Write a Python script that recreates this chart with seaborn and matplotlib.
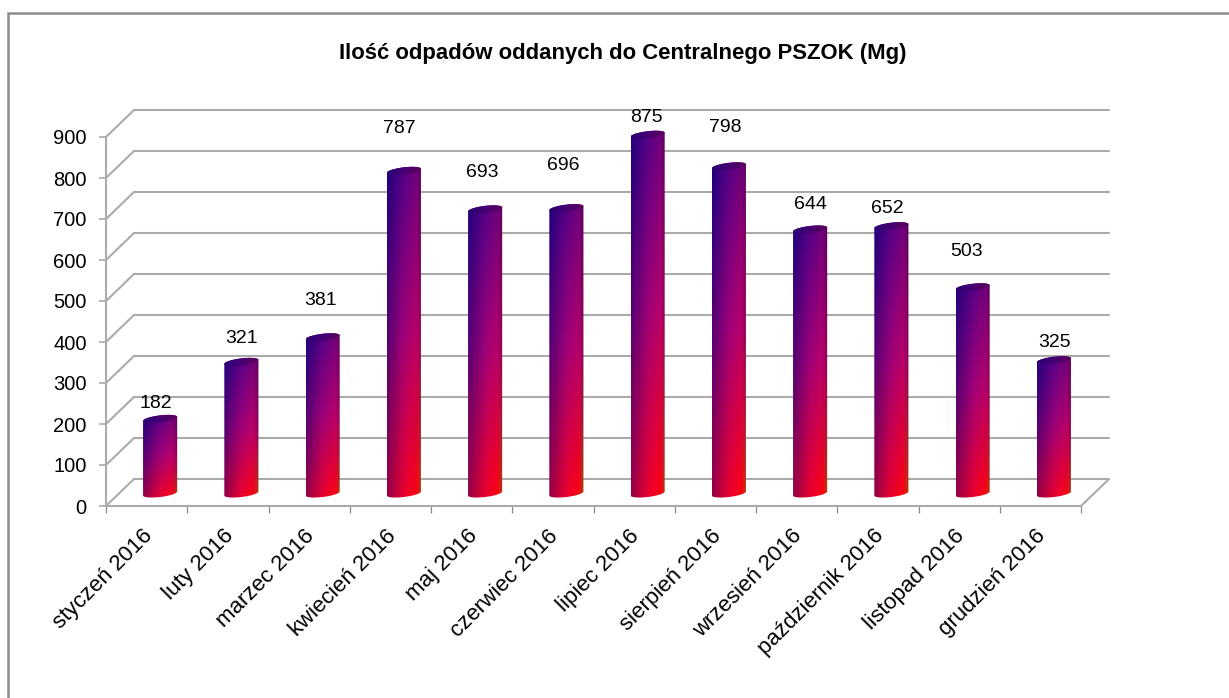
# monthly waste chart, fake 3D cylinders on top of a seaborn barplot
import matplotlib
matplotlib.use("Agg")
import matplotlib.pyplot as plt
from matplotlib.patches import Polygon, Rectangle
from matplotlib.transforms import ScaledTranslation
import numpy as np
import seaborn as sns

months = ['styczeń 2016', 'luty 2016', 'marzec 2016', 'kwiecień 2016', 'maj 2016', 'czerwiec 2016',
          'lipiec 2016', 'sierpień 2016', 'wrzesień 2016', 'październik 2016', 'listopad 2016', 'grudzień 2016']
values = [182, 321, 381, 787, 693, 696, 875, 798, 644, 652, 503, 325]
y_ticks = [0, 100, 200, 300, 400, 500, 600, 700, 800, 900]
title = 'Ilość odpadów oddanych do Centralnego PSZOK (Mg)'

# label placement relative to the cylinder top, in pixels
label_dx = [-4, 0, -2, -5, -3, -3, -1, -4, 0, -4, -6, 1]
label_dy = [15, 23, 37, 42, 37, 43, 17, 39, 25, 18, 36, 18]

W, H = 1229, 698
AX_L, AX_R, AX_B, AX_T = 106, 1081, 506, 137
GRAY = '#ababab'
FONT = 'Liberation Sans'

sns.set_style('white')
plt.rcParams['font.family'] = FONT
plt.rcParams['text.color'] = 'black'
plt.rcParams['xtick.color'] = 'black'
plt.rcParams['ytick.color'] = 'black'

fig = plt.figure(figsize=(W / 100, H / 100), dpi=100)
# outer frame, only top and left are inside the picture
fig.add_artist(Rectangle((8 / W, -0.1), 1.1, 1.1 - 13 / H, transform=fig.transFigure,
                         fill=False, edgecolor='#8c8c8c', linewidth=1.8))
ax = fig.add_axes([AX_L / W, 1 - AX_B / H, (AX_R - AX_L) / W, (AX_B - AX_T) / H])
ax.patch.set_alpha(0)

sns.barplot(x=months, y=values, ax=ax, width=0.42, color='purple', zorder=3)
ax.set_xlim(-0.5, 11.5)
ax.set_ylim(0, 900)

# pixel -> data scale
px_x = 12 / (AX_R - AX_L)
px_y = 900 / (AX_B - AX_T)
depth_x, depth_y = 28 * px_x, 27 * px_y

# back wall and side wall
xl, xr = -0.5, 11.5
for v in y_ticks:
    ax.plot([xl + depth_x, xr + depth_x], [v + depth_y] * 2, color=GRAY, lw=1.5, clip_on=False, zorder=1)
    ax.plot([xl, xl + depth_x], [v, v + depth_y], color=GRAY, lw=1.5, clip_on=False, zorder=1)
ax.plot([xr, xr + depth_x], [0, depth_y], color=GRAY, lw=1.5, clip_on=False, zorder=1)

# cylinder colours: columns go left to right, rows top to bottom
top_row = np.array([(30, 0, 125), (85, 0, 135), (110, 0, 125), (90, 0, 90)]) / 255
mid_row = np.array([(85, 0, 115), (160, 0, 120), (185, 0, 105), (140, 0, 90)]) / 255
bot_row = np.array([(150, 0, 70), (235, 0, 45), (255, 0, 15), (170, 70, 10)]) / 255
stops = [0, 0.5, 0.85, 1]
u = np.linspace(0, 1, 60)


def row_colors(row):
    return np.stack([np.interp(u, stops, row[:, k]) for k in range(3)], axis=1)


top_c, mid_c, bot_c = row_colors(top_row), row_colors(mid_row), row_colors(bot_row)
grad = np.zeros((80, 60, 3))
for r, v_ in enumerate(np.linspace(0, 1, 80)):
    if v_ < 0.5:
        grad[r] = top_c + (mid_c - top_c) * v_ / 0.5
    else:
        grad[r] = mid_c + (bot_c - mid_c) * (v_ - 0.5) / 0.5
cap_grad = np.array([[(50, 0, 115), (70, 0, 115), (85, 0, 95)]]) / 255

off_x = 13.5 * px_x
off_y = 12.5 * px_y
half_h = 3.5 * px_y
tilt = 4 * px_y / (34 * px_x)


def ellipse_arc(xc, yc, hw, t0, t1):
    t = np.linspace(t0, t1, 40)
    x = xc + hw * np.cos(t)
    y = yc + half_h * np.sin(t) + tilt * (x - xc)
    return np.column_stack([x, y])


for i, bar in enumerate(ax.patches):
    hw = bar.get_width() / 2
    xc = bar.get_x() + hw + off_x
    y0 = off_y
    y1 = off_y + bar.get_height()
    bar.set_visible(False)

    body = np.vstack([ellipse_arc(xc, y1, hw, 0, np.pi), ellipse_arc(xc, y0, hw, np.pi, 2 * np.pi)])
    clip = Polygon(body, closed=True, transform=ax.transData)
    im = ax.imshow(grad, extent=[xc - hw, xc + hw, y0 - 2 * half_h, y1 + 2 * half_h], aspect='auto',
                   interpolation='bilinear', zorder=3)
    im.set_clip_box(fig.bbox)
    im.set_clip_path(clip)

    cap = Polygon(ellipse_arc(xc, y1, hw, 0, 2 * np.pi), closed=True, transform=ax.transData)
    im2 = ax.imshow(cap_grad, extent=[xc - hw, xc + hw, y1 - 2 * half_h, y1 + 2 * half_h], aspect='auto',
                    interpolation='bilinear', zorder=4)
    im2.set_clip_box(fig.bbox)
    im2.set_clip_path(cap)

    ax.annotate(str(values[i]), (xc, y1), xytext=(label_dx[i] * 0.72, label_dy[i] * 0.72),
                textcoords='offset points', ha='center', va='center', fontsize=14, color='black',
                annotation_clip=False, zorder=5)

ax.set_xlim(-0.5, 11.5)
ax.set_ylim(0, 900)

# axes
for side in ['top', 'right']:
    ax.spines[side].set_visible(False)
for side in ['left', 'bottom']:
    ax.spines[side].set_color(GRAY)
    ax.spines[side].set_linewidth(1.5)
    ax.spines[side].set_zorder(2)

ax.set_yticks(y_ticks)
ax.tick_params(axis='y', length=5, width=1.2, color=GRAY, pad=9, left=True, labelsize=14.5)
ax.set_xticks(range(12))
ax.set_xticklabels(months, rotation=45, ha='right', rotation_mode='anchor', fontsize=16)
ax.tick_params(axis='x', length=0, pad=14)
ax.set_xticks(np.arange(-0.5, 12, 1), minor=True)
ax.tick_params(axis='x', which='minor', length=5, width=0.9, color='#8c8c8c', bottom=True)
shift = ScaledTranslation(-5 / 100, 0, fig.dpi_scale_trans)
for lab in ax.get_xticklabels():
    lab.set_transform(lab.get_transform() + shift)

fig.text(623 / W, 1 - 53 / H, title, ha='center', va='center', fontsize=15.9, fontweight='bold', color='black')

fig.savefig('out.png', dpi=100)
